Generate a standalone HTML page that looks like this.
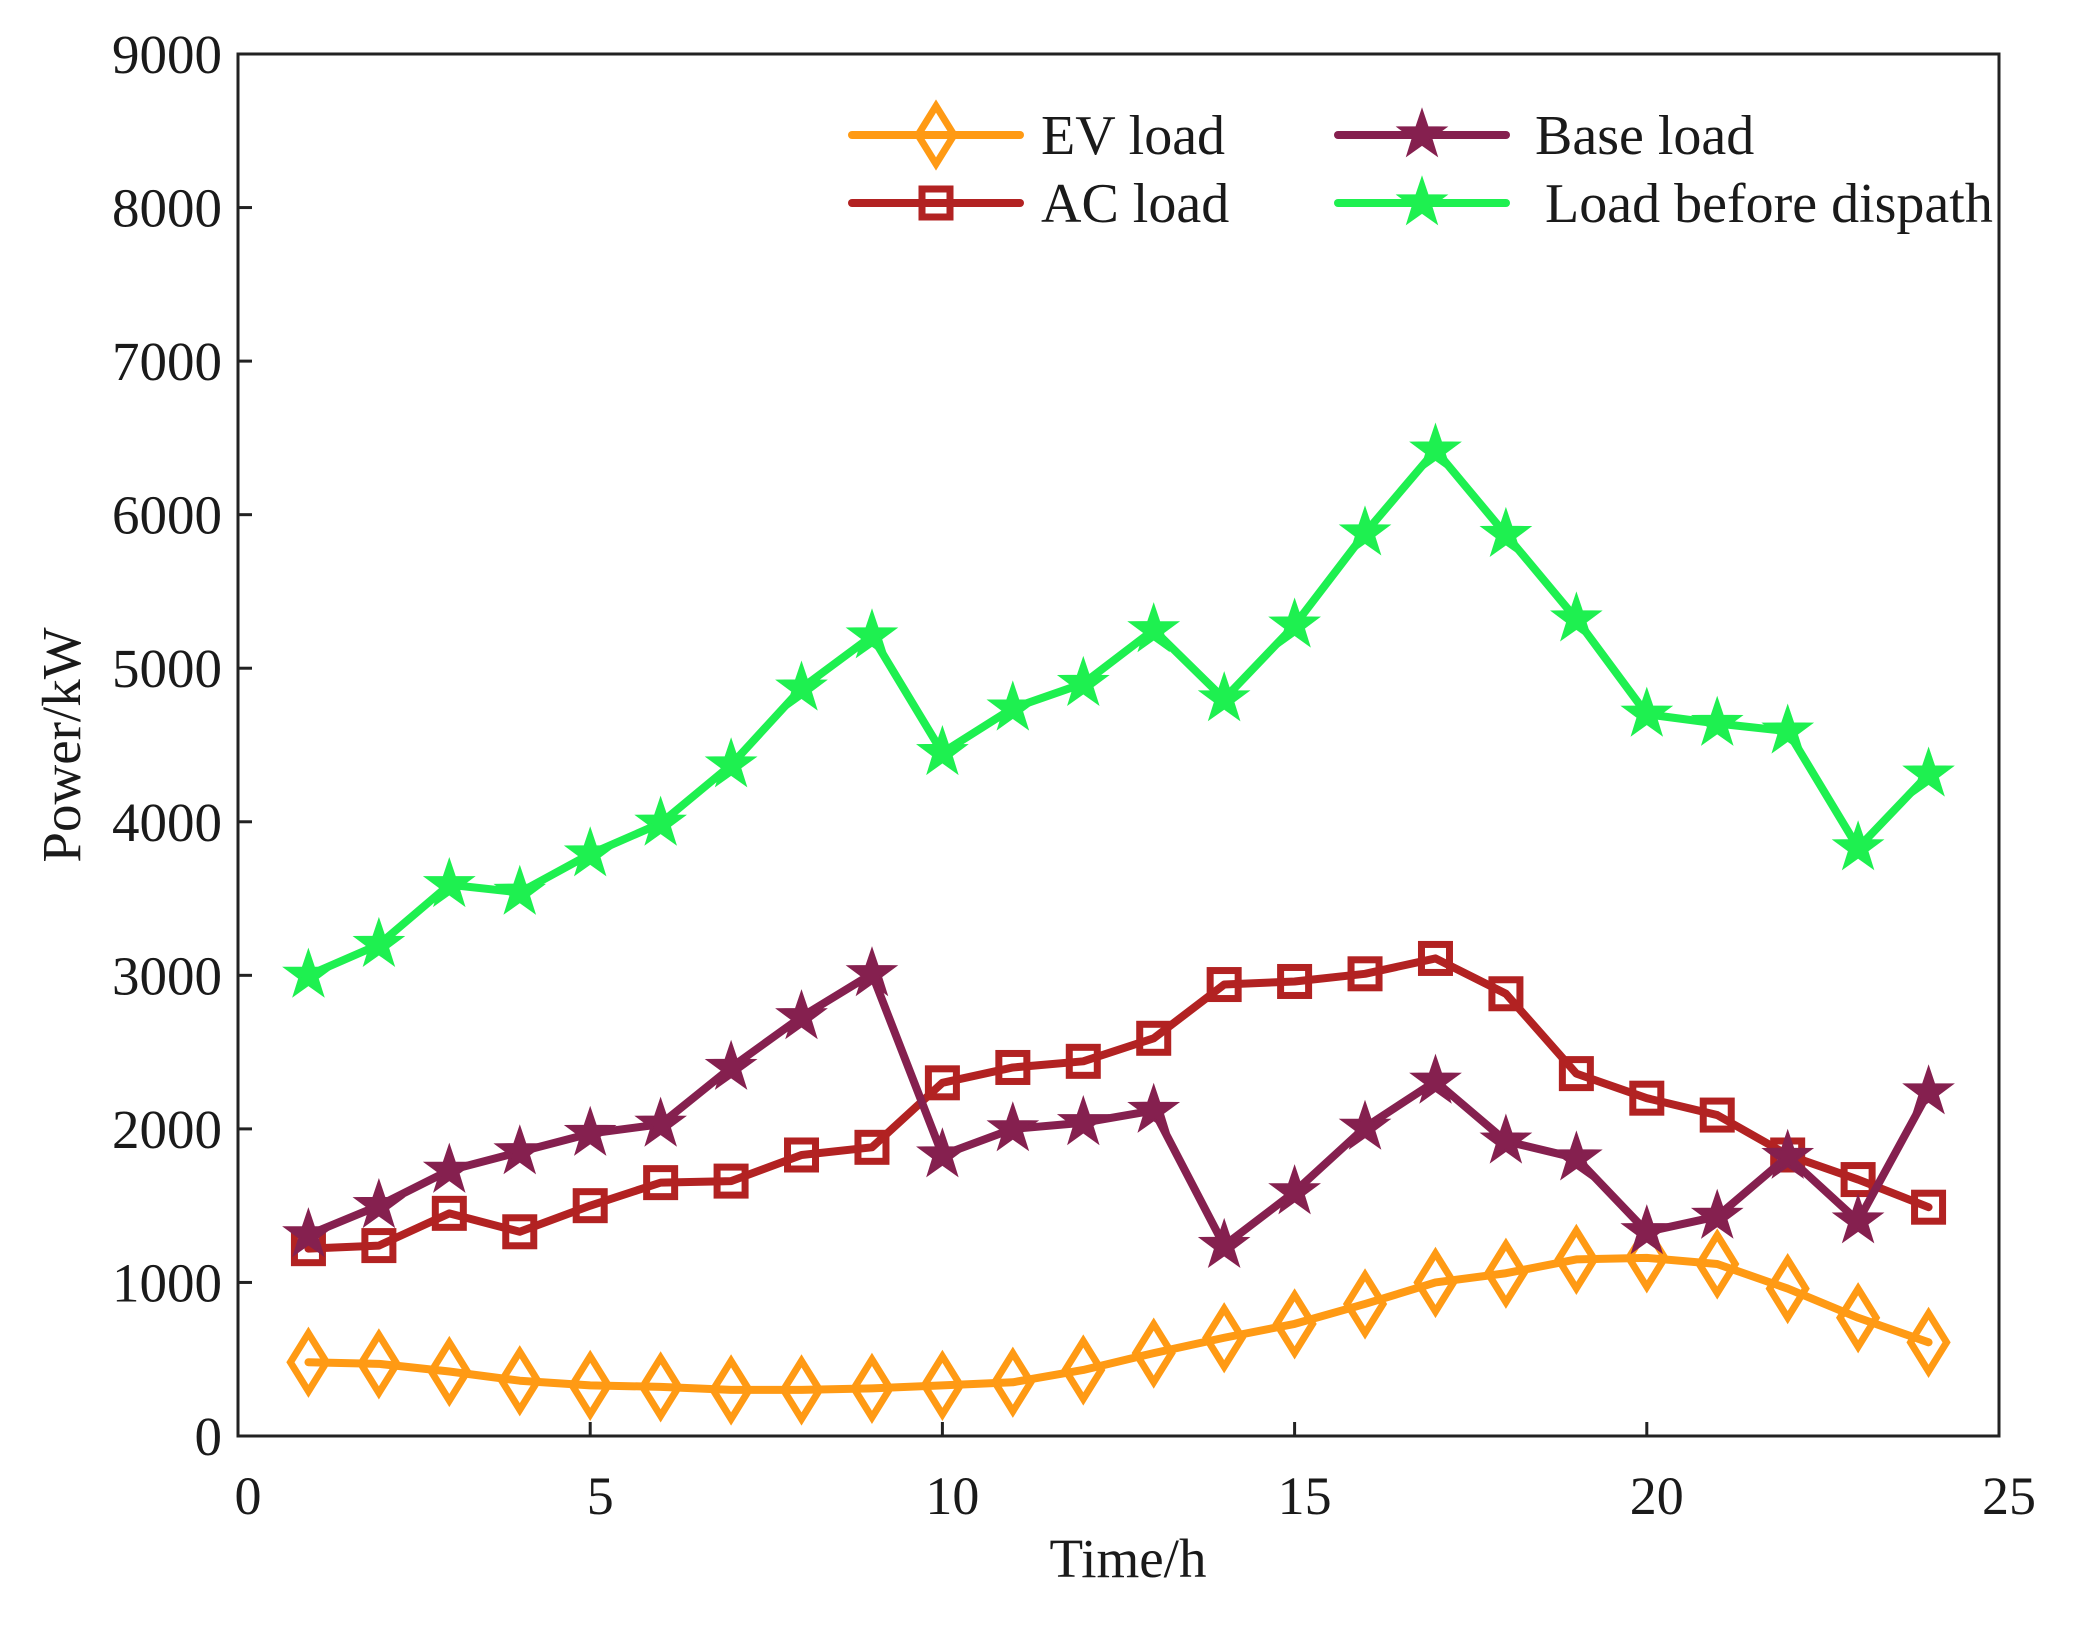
<!DOCTYPE html>
<html><head><meta charset="utf-8"><style>
body{margin:0;background:#fff}
svg text{font-family:"Liberation Serif",serif;fill:#1a1a1a}
</style></head><body>
<svg width="2098" height="1623" viewBox="0 0 2098 1623" xmlns="http://www.w3.org/2000/svg">
<g id="axes"></g><g id="series"></g><g id="legend"></g>
<script>
const hours=[1,2,3,4,5,6,7,8,9,10,11,12,13,14,15,16,17,18,19,20,21,22,23,24];
const evLoad=[480,470,420,360,330,320,300,300,310,330,350,430,540,640,730,860,1000,1060,1150,1160,1120,960,770,610];
const acLoad=[1220,1240,1450,1330,1500,1650,1660,1830,1880,2300,2400,2440,2590,2940,2960,3010,3110,2880,2360,2200,2090,1830,1670,1490];
const baseLoad=[1310,1500,1730,1850,1970,2030,2400,2730,3010,1830,2000,2040,2120,1240,1590,2010,2310,1920,1810,1330,1430,1820,1400,2240];
const loadBefore=[3000,3200,3590,3540,3790,3990,4370,4870,5210,4450,4740,4900,5250,4800,5280,5880,6420,5870,5320,4700,4640,4590,3830,4310];
const xTicks=[0,5,10,15,20,25];
const yTicks=[0,1000,2000,3000,4000,5000,6000,7000,8000,9000];
const L=238,R=1999,T=54,B=1436;
const NS="http://www.w3.org/2000/svg";
const X=v=>L+(v-0)/25*(R-L);
const Y=v=>B-(v-0)/9000*(B-T);
function mk(tag,attrs,parent){const e=document.createElementNS(NS,tag);for(const k in attrs)e.setAttribute(k,attrs[k]);parent.appendChild(e);return e;}
const axes=document.getElementById('axes');
const frame=mk('rect',{x:L,y:T,width:R-L,height:B-T,fill:'none',stroke:'#222','stroke-width':3},axes);


xTicks.forEach(t=>{
 const ln=mk('line',{x1:X(t),x2:X(t),y1:B,y2:B-14,stroke:'#222','stroke-width':3},axes);
 
 
 const tx=mk('text',{x:X(t)+10,y:1514,'font-size':54,'text-anchor':'middle'},axes);tx.textContent=t;
 
 
});
yTicks.forEach(t=>{
 const ln=mk('line',{x1:L,x2:L+14,y1:Y(t),y2:Y(t),stroke:'#222','stroke-width':3},axes);
 
 
 const tx=mk('text',{x:222,y:Y(t)+19,'font-size':55,'text-anchor':'end'},axes);tx.textContent=t;
 
 
});
const xt=mk('text',{x:1128,y:1577,'font-size':55,'text-anchor':'middle'},axes);xt.textContent='Time/h';


const yt=mk('text',{x:0,y:0,'font-size':55,'text-anchor':'middle',transform:'translate(80,745) rotate(-90)'},axes);yt.textContent='Power/kW';



function marker(type,cx,cy,color,g){
 if(type==='diamond')return mk('polygon',{points:`${cx},${cy-29} ${cx+18},${cy} ${cx},${cy+29} ${cx-18},${cy}`,fill:'none',stroke:color,'stroke-width':7},g);
 if(type==='square')return mk('rect',{x:cx-14,y:cy-14,width:28,height:28,fill:'none',stroke:color,'stroke-width':7},g);
 let p=[];for(let i=0;i<10;i++){const r=i%2?9:23;const a=-Math.PI/2+i*Math.PI/5;p.push((cx+r*Math.cos(a)).toFixed(1)+','+(cy+r*Math.sin(a)).toFixed(1));}
 return mk('polygon',{points:p.join(' '),fill:color,stroke:color,'stroke-width':3},g);
}
const seriesG=document.getElementById('series');
const defs=[[evLoad,'#FF9A14','diamond','ev-load'],[acLoad,'#B22222','square','ac-load'],[baseLoad,'#85204F','star','base-load'],[loadBefore,'#1EF050','star','load-before-dispatch']];
defs.forEach(([vals,col,mt,name])=>{
 const g=mk('g',{},seriesG);
 
 
 const pl=mk('polyline',{points:vals.map((v,i)=>X(hours[i])+','+Y(v)).join(' '),fill:'none',stroke:col,'stroke-width':8,'stroke-linejoin':'round','stroke-linecap':'round'},g);
 
 
 vals.forEach((v,i)=>{const m=marker(mt,X(hours[i]),Y(v),col,g);
  
  });
});
const lg=document.getElementById('legend');


[['EV load','#FF9A14','diamond',852,135,1041],['Base load','#85204F','star',1338,135,1535],['AC load','#B22222','square',852,203,1041],['Load before dispath','#1EF050','star',1338,203,1545]].forEach(([lab,col,mt,x,y,tx])=>{
 const g=mk('g',{},lg);
 
 
 mk('line',{x1:x,x2:x+168,y1:y,y2:y,stroke:col,'stroke-width':8,'stroke-linecap':'round'},g);
 marker(mt,x+84,y,col,g);
 const t=mk('text',{x:tx,y:y+19,'font-size':56},g);t.textContent=lab;
});
</script>
</svg>
</body></html>
